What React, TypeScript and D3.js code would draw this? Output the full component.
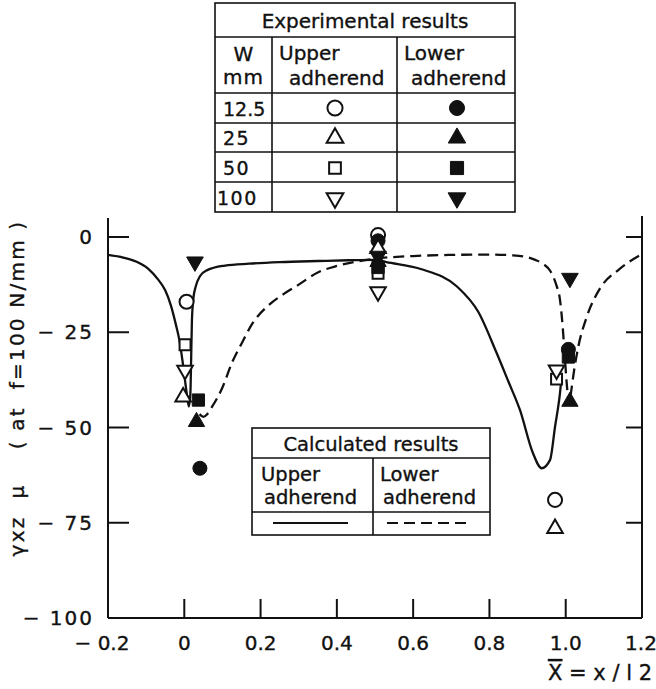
import React from "react";
import * as d3 from "d3";

const xTicks = [-0.2, 0, 0.2, 0.4, 0.6, 0.8, 1.0, 1.2];
const xTickLabels = ["− 0.2", "0", "0.2", "0.4", "0.6", "0.8", "1.0", "1.2"];
const yTicks = [0, -25, -50, -75, -100];
const yTickLabels = ["0", "− 25", "− 50", "− 75", "− 100"];

// Calculated results (x, gamma)
const upperCalc: [number, number][] = [
  [-0.2, -4.7], [-0.16, -5.4], [-0.125, -6.5], [-0.095, -8.3], [-0.07, -11], [-0.05, -14],
  [-0.035, -18], [-0.022, -23], [-0.013, -27], [-0.004, -33], [0.005, -40], [0.012, -44.5],
  [0.016, -41], [0.018, -32], [0.02, -22], [0.024, -16], [0.03, -13], [0.041, -10.3],
  [0.06, -8.7], [0.107, -7.5], [0.17, -7], [0.25, -6.6], [0.35, -6.3], [0.43, -6.1],
  [0.5, -6], [0.53, -6.6], [0.62, -8.4], [0.715, -13], [0.771, -19.7], [0.817, -30],
  [0.85, -38], [0.88, -45.4], [0.914, -56.7], [0.937, -60.7], [0.959, -58.5], [0.972, -49.8],
  [0.985, -41], [0.99, -36],
];
const lowerCalc: [number, number][] = [
  [0.04, -46.5], [0.05, -47.2], [0.06, -46.5], [0.07, -45], [0.1, -39.5], [0.125, -33],
  [0.15, -28], [0.18, -22.5], [0.22, -18], [0.26, -15], [0.3, -12.5], [0.35, -9.3],
  [0.4, -7.6], [0.45, -6.5], [0.5, -5.7], [0.6, -5], [0.7, -4.7], [0.8, -4.6], [0.86, -4.8],
  [0.9, -5.3], [0.92, -6], [0.94, -7], [0.96, -9], [0.975, -12.5], [0.985, -16.5],
  [0.992, -23.5], [0.998, -32], [1.004, -40], [1.009, -44], [1.015, -40], [1.022, -35],
  [1.033, -28.8], [1.055, -21], [1.09, -13.5], [1.14, -8.5], [1.2, -4.5],
];

// Experimental results
const widthLabels = ["12.5", "25", "50", "100"];
const upper12_5: [number, number][] = [[0.006, -17], [0.508, 0.5], [0.972, -69]];
const lower12_5: [number, number][] = [[0.041, -60.7], [0.508, -1.0], [1.007, -29.5]];
const upper25: [number, number][] = [[-0.003, -42], [0.508, -3], [0.972, -76.5]];
const lower25: [number, number][] = [[0.032, -48.5], [0.508, -6.5], [1.011, -43.2]];
const upper50: [number, number][] = [[0.002, -28.3], [0.508, -9.5], [0.976, -37.3]];
const lower50: [number, number][] = [[0.037, -42.8], [0.508, -8], [1.007, -31.5]];
const upper100: [number, number][] = [[0.002, -35], [0.508, -14.4], [0.976, -34.9]];
const lower100: [number, number][] = [[0.028, -6.5], [0.508, -5], [1.011, -10.8]];

const shapes = ["circle", "triangle", "square", "triangleDown"];
const upperSets = [upper12_5, upper25, upper50, upper100];
const lowerSets = [lower12_5, lower25, lower50, lower100];

const INK = "#111";
const FONT = "DejaVu Sans, Liberation Sans, sans-serif";

function Marker({ shape, x, y, filled, scale = 1 }: { shape: string; x: number; y: number; filled: boolean; scale?: number }) {
  let type: d3.SymbolType = d3.symbolCircle;
  let size = 155;
  let rot = 0;
  if (shape === "triangle") { type = d3.symbolTriangle; size = filled ? 115 : 105; }
  if (shape === "triangleDown") { type = d3.symbolTriangle; size = filled ? 120 : 105; rot = 180; }
  if (shape === "square") { type = d3.symbolSquare; size = filled ? 150 : 120; }
  const d = d3.symbol().type(type).size(size * scale)() || "";
  return (
    <path
      d={d}
      transform={`translate(${x},${y}) rotate(${rot})`}
      fill={filled ? INK : "#fff"}
      stroke={INK}
      strokeWidth={filled ? 1 : 2}
    />
  );
}

export default function App() {
  const x = d3.scaleLinear().domain([-0.2, 1.2]).range([108, 642]);
  const y = d3.scaleLinear().domain([-100, 0]).range([618, 237]);
  const line = d3.line<[number, number]>().x((d) => x(d[0])).y((d) => y(d[1])).curve(d3.curveMonotoneX);
  const top = y(5);

  // Experimental table geometry
  const tL = 215, tC1 = 272, tC2 = 397, tR = 515;
  const tRows = [3, 37, 93, 123, 152, 182, 212];
  // Calculated table geometry
  const cL = 252, cM = 373, cR = 490;
  const cRows = [428, 458, 512, 535];

  const txt = { stroke: INK, strokeWidth: 0.35 };

  return (
    <svg width={656} height={689} style={{ display: "block", position: "absolute", left: 0, top: 0, background: "#fff" }} fontFamily={FONT}>
      <rect width={656} height={689} fill="#fff" />
      {/* axes */}
      <g stroke={INK} strokeWidth={2} fill="none">
        <line x1={x(-0.2)} y1={top} x2={x(-0.2)} y2={y(-100)} />
        <line x1={x(1.2)} y1={top - 2} x2={x(1.2)} y2={y(-100)} />
        <line x1={x(-0.2)} y1={y(-100)} x2={x(1.2)} y2={y(-100)} />
        {yTicks.filter((v) => v > -100).map((v) => (
          <g key={"yt" + v}>
            <line x1={x(-0.2)} x2={x(-0.2) + 21} y1={y(v)} y2={y(v)} />
            <line x1={x(1.2) - 16} x2={x(1.2)} y1={y(v)} y2={y(v)} />
          </g>
        ))}
        {xTicks.filter((v) => v > -0.2 && v < 1.2).map((v) => (
          <line key={"xt" + v} x1={x(v)} x2={x(v)} y1={y(-100)} y2={y(-100) - 19} />
        ))}
      </g>
      {/* tick labels */}
      <g fill={INK} fontSize={20} {...txt}>
        {yTicks.map((v, i) => (
          <text key={"yl" + v} x={94} y={y(v) + 7} textAnchor="end" letterSpacing={2} style={{ whiteSpace: "pre" }}>
            {yTickLabels[i]}
          </text>
        ))}
        {xTicks.map((v, i) => (
          <text key={"xl" + v} x={x(v) + (i === 0 ? -6 : i === 7 ? -1 : 0)} y={650} textAnchor="middle" style={{ whiteSpace: "pre" }}>
            {xTickLabels[i]}
          </text>
        ))}
      </g>
      {/* axis titles */}
      <text
        transform={`translate(24, 388) rotate(-90)`}
        textAnchor="middle"
        fontSize={20}
        fill={INK}
        letterSpacing={2.2}
        style={{ whiteSpace: "pre" }}
        {...txt}
      >
        {"γxz  μ    ( at  f=100 N/mm )"}
      </text>
      <text x={600} y={680} textAnchor="middle" fontSize={21} fill={INK} style={{ whiteSpace: "pre" }} {...txt}>
        <tspan textDecoration="overline">X</tspan>
        {" = x / l 2"}
      </text>

      {/* calculated curves */}
      <path d={line(upperCalc) || ""} fill="none" stroke={INK} strokeWidth={2.3} />
      <path d={line(lowerCalc) || ""} fill="none" stroke={INK} strokeWidth={2.3} strokeDasharray="11 6" />

      {/* experimental markers */}
      {shapes.map((s, i) => (
        <g key={"m" + s}>
          {upperSets[i].map((p, j) => (
            <Marker key={"u" + j} shape={s} x={x(p[0])} y={y(p[1])} filled={false} />
          ))}
          {lowerSets[i].map((p, j) => (
            <Marker key={"l" + j} shape={s} x={x(p[0])} y={y(p[1])} filled={true} />
          ))}
        </g>
      ))}

      {/* Experimental results table */}
      <g stroke={INK} strokeWidth={1.6} fill="none">
        <rect x={tL} y={tRows[0]} width={tR - tL} height={tRows[6] - tRows[0]} fill="#fff" />
        {tRows.slice(1, 6).map((r) => (
          <line key={"tr" + r} x1={tL} x2={tR} y1={r} y2={r} />
        ))}
        <line x1={tC1} x2={tC1} y1={tRows[1]} y2={tRows[6]} />
        <line x1={tC2} x2={tC2} y1={tRows[1]} y2={tRows[6]} />
      </g>
      <g fill={INK} fontSize={20} {...txt}>
        <text x={(tL + tR) / 2} y={28} textAnchor="middle">Experimental results</text>
        <text x={(tL + tC1) / 2} y={61} textAnchor="middle">W</text>
        <text x={(tL + tC1) / 2} y={84} textAnchor="middle" letterSpacing={1}>mm</text>
        <text x={279} y={60}>Upper</text>
        <text x={289} y={85}>adherend</text>
        <text x={404} y={60}>Lower</text>
        <text x={411} y={85}>adherend</text>
      </g>
      <g fill={INK} fontSize={19} {...txt}>
        {widthLabels.map((w, i) => (
          <text key={"w" + w} x={w === "100" ? 217 : 223} y={[116, 145, 175, 205][i]} letterSpacing={w === "12.5" ? 0 : 1.5}>
            {w}
          </text>
        ))}
      </g>
      {shapes.map((s, i) => {
        const cy = [108, 138, 168, 198][i];
        return (
          <g key={"tm" + s}>
            <Marker shape={s} x={335} y={cy} filled={false} scale={1.15} />
            <Marker shape={s} x={457} y={cy} filled={true} scale={1.15} />
          </g>
        );
      })}

      {/* Calculated results table */}
      <g stroke={INK} strokeWidth={1.6} fill="none">
        <rect x={cL} y={cRows[0]} width={cR - cL} height={cRows[3] - cRows[0]} fill="#fff" />
        <line x1={cL} x2={cR} y1={cRows[1]} y2={cRows[1]} />
        <line x1={cL} x2={cR} y1={cRows[2]} y2={cRows[2]} />
        <line x1={cM} x2={cM} y1={cRows[1]} y2={cRows[3]} />
        <line x1={273} x2={348} y1={523} y2={523} strokeWidth={2} />
        <line x1={387} x2={467} y1={523} y2={523} strokeWidth={2} strokeDasharray="11 6" />
      </g>
      <g fill={INK} fontSize={19.5} {...txt}>
        <text x={(cL + cR) / 2} y={451} textAnchor="middle">Calculated results</text>
        <text x={261} y={481}>Upper</text>
        <text x={264} y={504}>adherend</text>
        <text x={380} y={481}>Lower</text>
        <text x={383} y={504}>adherend</text>
      </g>
    </svg>
  );
}
